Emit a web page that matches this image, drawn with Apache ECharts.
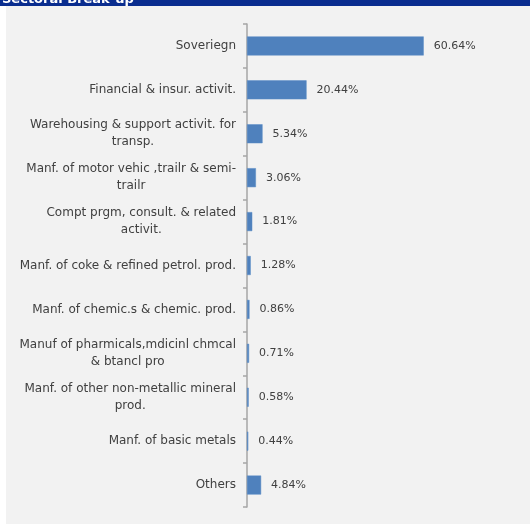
<!DOCTYPE html>
<html>
<head>
<meta charset="utf-8">
<style>
  html, body { margin: 0; padding: 0; background: #ffffff; }
  #chart { width: 530px; height: 526px; }
</style>
<script src="https://cdn.jsdelivr.net/npm/echarts@6/dist/echarts.min.js"></script>
</head>
<body>
<div id="chart"></div>
<script>
// Sector names (top to bottom) and their share of the portfolio, in percent
const sectors = [
  'Soveriegn',
  'Financial & insur. activit.',
  'Warehousing & support activit. for\ntransp.',
  'Manf. of motor vehic ,trailr & semi-\ntrailr',
  'Compt prgm, consult. & related\nactivit.',
  'Manf. of coke & refined petrol. prod.',
  'Manf. of chemic.s & chemic. prod.',
  'Manuf of pharmicals,mdicinl chmcal\n& btancl pro',
  'Manf. of other non-metallic mineral\nprod.',
  'Manf. of basic metals',
  'Others'
];
const shares = [60.64, 20.44, 5.34, 3.06, 1.81, 1.28, 0.86, 0.71, 0.58, 0.44, 4.84];

const title = 'Sectoral Break-up';

const FONT = 'DejaVu Sans';
const TEXT = '#404040';

const chart = echarts.init(document.getElementById('chart'), null, { renderer: 'canvas' });

chart.setOption({
  backgroundColor: '#ffffff',
  animation: false,
  graphic: [
    { type: 'rect', z: -10, shape: { x: 0, y: 0, width: 530, height: 6 }, style: { fill: '#0a2d8f' } },
    { type: 'text', z: -9, x: 2, y: 6.5,
      style: { text: title, fill: '#ffffff', font: 'bold 13px "' + FONT + '"', verticalAlign: 'bottom' } },
    { type: 'rect', z: -8, shape: { x: 6, y: 6, width: 524, height: 518 }, style: { fill: '#f2f2f2' } }
  ],
  grid: { left: 247, right: 79, top: 24, bottom: 19, containLabel: false },
  xAxis: {
    type: 'value', min: 0, max: 70, show: false
  },
  yAxis: {
    type: 'category',
    data: sectors,
    inverse: true,
    axisLine: { show: true, lineStyle: { color: '#a6a6a6', width: 1.5 } },
    axisTick: { show: true, length: 4, lineStyle: { color: '#a6a6a6', width: 1.5 } },
    axisLabel: {
      margin: 11,
      formatter: v => v.split('\n').map(s => '{c|' + s + '}').join('\n'),
      rich: {
        c: { fontFamily: FONT, fontSize: 12, color: TEXT, align: 'center', lineHeight: 17 }
      }
    },
    splitLine: { show: false }
  },
  series: [{
    type: 'bar',
    data: shares,
    barWidth: 19,
    itemStyle: { color: '#4f81bd', borderColor: '#5b8cc6', borderWidth: 0.5 },
    label: {
      show: true,
      position: 'right',
      distance: 10,
      formatter: p => p.value.toFixed(2) + '%',
      fontFamily: FONT,
      fontSize: 11,
      color: TEXT
    }
  }]
});
</script>
</body>
</html>
